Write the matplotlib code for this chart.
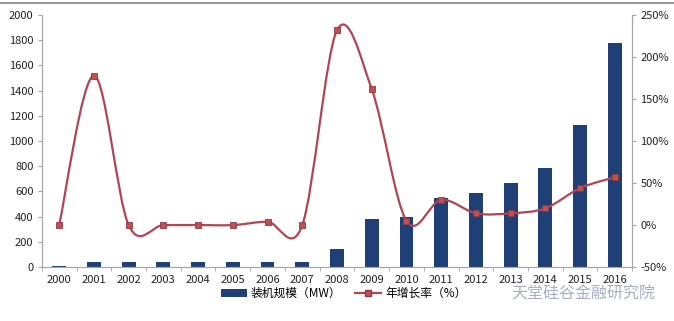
import numpy as np
import matplotlib.pyplot as plt
from matplotlib.lines import Line2D
from matplotlib.patches import Patch
from matplotlib.path import Path
from matplotlib.patches import PathPatch
from matplotlib.ticker import FuncFormatter, MultipleLocator

plt.rcParams['font.family'] = ['Noto Sans CJK SC', 'DejaVu Sans']

# data
years = ["2000", "2001", "2002", "2003", "2004", "2005", "2006", "2007", "2008",
         "2009", "2010", "2011", "2012", "2013", "2014", "2015", "2016"]
capacity_mw = [5, 40, 40, 40, 40, 40, 40, 40, 143, 380, 400, 550, 590, 670, 790, 1125, 1775]
growth_pct = [0, 178, 0, 0, 0, 0, 4, 0, 232, 162, 5, 30, 14, 14, 20, 44, 57]

bar_color = "#1f3f77"
line_color = "#b04555"
marker_color = "#c0504d"
grid_gray = "#a6a6a6"

fig = plt.figure(figsize=(6.74, 3.21), dpi=100)
ax = fig.add_axes([0.062, 0.168, 0.876, 0.785])
ax2 = ax.twinx()

x = np.arange(len(years))
ax.bar(x, capacity_mw, width=0.4, color=bar_color, zorder=2)

# smoothed line (Catmull-Rom style, like Excel's smooth line)
y = np.array(growth_pct, dtype=float)
verts = [(x[0], y[0])]
codes = [Path.MOVETO]
n = len(x)
for i in range(n - 1):
    p0 = np.array([x[max(i - 1, 0)], y[max(i - 1, 0)]])
    p1 = np.array([x[i], y[i]])
    p2 = np.array([x[i + 1], y[i + 1]])
    p3 = np.array([x[min(i + 2, n - 1)], y[min(i + 2, n - 1)]])
    c1 = p1 + (p2 - p0) / 6.0
    c2 = p2 - (p3 - p1) / 6.0
    verts += [tuple(c1), tuple(c2), tuple(p2)]
    codes += [Path.CURVE4] * 3
ax2.add_patch(PathPatch(Path(verts, codes), facecolor="none", edgecolor=line_color,
                        lw=1.6, zorder=3))
ax2.plot(x, y, ls="none", marker="s", ms=5, mfc=marker_color, mec="#8c3a45",
         mew=0.6, zorder=4)

ax.set_xlim(-0.5, len(years) - 0.5)
ax.set_ylim(0, 2000)
ax2.set_ylim(-50, 250)
ax.yaxis.set_major_locator(MultipleLocator(200))
ax2.yaxis.set_major_locator(MultipleLocator(50))
ax2.yaxis.set_major_formatter(FuncFormatter(lambda v, p: f"{v:.0f}%"))

ax.set_xticks(x)
ax.set_xticklabels(years)
ax.set_xticks(np.arange(-0.5, len(years), 1), minor=True)
ax.tick_params(axis="x", which="major", length=0, pad=6, labelsize=8, colors="#222222")
ax.tick_params(axis="x", which="minor", length=3, color=grid_gray)
ax.tick_params(axis="y", length=3, color=grid_gray, labelsize=8, labelcolor="#222222", pad=3)
ax2.tick_params(axis="y", length=3, color=grid_gray, labelsize=8, labelcolor="#222222", pad=3)

for a in (ax, ax2):
    a.spines["top"].set_visible(False)
    for s in ("left", "right", "bottom"):
        a.spines[s].set_color(grid_gray)
        a.spines[s].set_linewidth(0.8)

handles = [Patch(facecolor=bar_color, label="装机规模（MW）"),
           Line2D([0], [0], color=line_color, lw=1.6, marker="s", ms=4,
                  mfc=marker_color, mec="#8c3a45", label="年增长率（%）")]
fig.legend(handles=handles, loc="center", bbox_to_anchor=(0.51, 0.085), ncol=2,
           frameon=False, fontsize=8.5, handlelength=2.2, columnspacing=1.2,
           handletextpad=0.3)

# watermark text
fig.text(0.972, 0.085, "天堂硅谷金融研究院", ha="right", va="center", fontsize=11.5,
         color="#5a6f8f", alpha=0.55)

# thin frame line at the top
fig.add_artist(Line2D([0, 1], [0.99, 0.99], transform=fig.transFigure,
                      color="#9a9a9a", lw=1.5))

fig.savefig("out.png", dpi=100)
